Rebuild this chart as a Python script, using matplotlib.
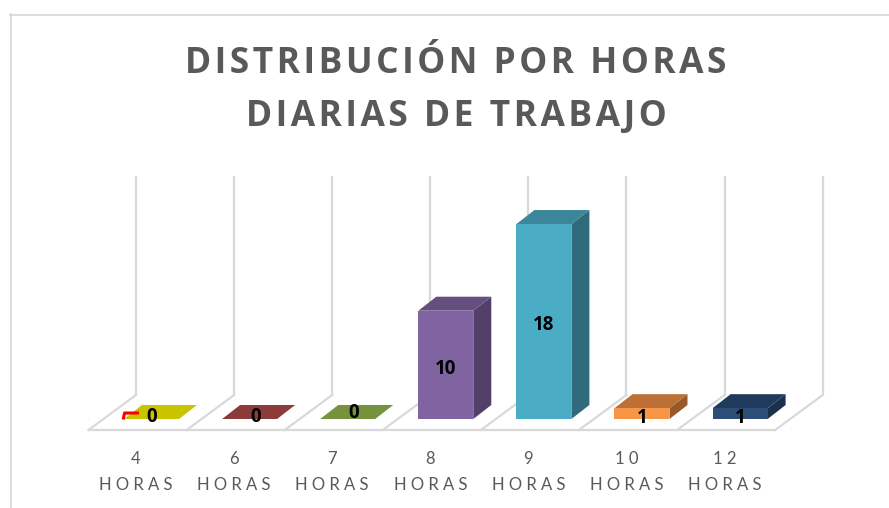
import matplotlib
matplotlib.use("Agg")
import matplotlib.pyplot as plt
from matplotlib.patches import Polygon, Rectangle
from matplotlib.lines import Line2D

# Data
categories = ["4", "6", "7", "8", "9", "1 0", "1 2"]
values = [0, 0, 0, 10, 18, 1, 1]
front_colors = ["#C8C400", "#8C3A3A", "#76923C", "#8064A2", "#4BACC6", "#F79646", "#2C4D75"]
top_colors = ["#C8C400", "#8C3A3A", "#76923C", "#654F80", "#3B8699", "#BC7036", "#1F3A5C"]
side_colors = ["#A09C00", "#702E2E", "#5E7530", "#543F69", "#2F6B7B", "#99592B", "#19304D"]
title_lines = "DISTRIBUCIÓN POR HORAS\nDIARIAS DE TRABAJO"

W, H = 889, 508
PX_PER_CAT = 98.1
PX_PER_VAL = 10.83
fig = plt.figure(figsize=(W / 100, H / 100), dpi=100)
# plane of the bar fronts: category 0 centred at 151.5 px, value 0 at y=419 px
x0, base = 151.5, 419
ax = fig.add_axes([(x0 - 0.5 * PX_PER_CAT) / W, (H - base) / H, 7 * PX_PER_CAT / W, 20 * PX_PER_VAL / H])
ax.set_xlim(-0.5, 6.5)
ax.set_ylim(0, 20)
ax.axis("off")

def cx(px):
    return px / PX_PER_CAT
def cy(px):
    return px / PX_PER_VAL

GRID = "#D9D9D9"
TXT = "#595959"
FONT = ["Lato", "DejaVu Sans"]
BOLD = ["Open Sans", "DejaVu Sans"]

# chart border
fig.add_artist(Line2D([10.5 / W, 10.5 / W], [0, 1 - 14 / H], color=GRID, lw=1.3))
fig.add_artist(Line2D([10 / W, 1], [1 - 14.5 / H] * 2, color=GRID, lw=1.3))

# walls and floor
for k in range(len(values) + 1):
    bx = k - cx(15.5)          # back-wall gridline in category units
    ax.plot([bx, bx], [cy(24), cy(243)], color=GRID, lw=1.6, clip_on=False, solid_capstyle="butt", zorder=0.5)
    ax.plot([bx, bx - cx(47.5)], [cy(24), cy(-11)], color=GRID, lw=1.6, clip_on=False, zorder=0.5)
ax.plot([-cx(63), len(values) - cx(63)], [cy(-11)] * 2, color=GRID, lw=1.6, clip_on=False, zorder=0.5)

# bars
bw, ddx, ddy = 55 / PX_PER_CAT, cx(18), cy(14)
for i, (v, f, t, s) in enumerate(zip(values, front_colors, top_colors, side_colors)):
    l, r = i - bw / 2, i + bw / 2
    ax.add_patch(Polygon([(r, 0), (r + ddx, ddy), (r + ddx, v + ddy), (r, v)], fc=s, ec="none", clip_on=False))
    ax.add_patch(Polygon([(l, v), (r, v), (r + ddx, v + ddy), (l + ddx, v + ddy)], fc=t, ec="none", clip_on=False))
    if v > 0:
        ax.add_patch(Rectangle((l, 0), bw, v, fc=f, ec="none", clip_on=False))

# data labels
lab_dx = [0, 6, 6, 0, 0, 0, 0]
lab_dy = [2, 2, 6, 50, 94, 1, 1]
for i, (v, dx, dy) in enumerate(zip(values, lab_dx, lab_dy)):
    ax.text(i + cx(dx), cy(dy), str(v), ha="center", va="center", fontsize=13.5, fontweight="bold",
            color="black", family=BOLD, zorder=4)
# leader line of the first label
ax.plot([-cx(28), -cx(27), -cx(14)], [cy(1), cy(6), cy(6)], color="#FF0000", lw=2.2, clip_on=False, zorder=3)

# category labels
for i, c in enumerate(categories):
    xc = i - cx(15.5)
    ax.text(xc, cy(-40), c, ha="center", va="center", fontsize=12, color=TXT, family=FONT)
    ax.text(xc, cy(-66), "H O R A S", ha="center", va="center", fontsize=12, color=TXT, family=FONT)

# title
for line, yp in zip(title_lines.split("\n"), (73, 126)):
    fig.text(456 / W, 1 - yp / H, "\u200a".join(line), ha="center", va="baseline",
             fontsize=25.5, fontweight="bold", color=TXT, family=BOLD)

fig.savefig("out.png", dpi=100)
